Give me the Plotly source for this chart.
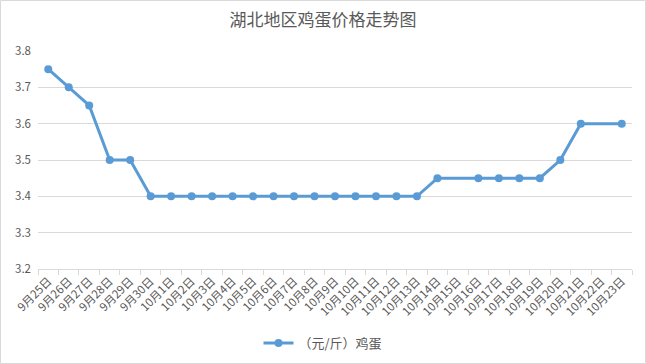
import plotly.graph_objects as go

dates = ["9月25日", "9月26日", "9月27日", "9月28日", "9月29日", "9月30日",
         "10月1日", "10月2日", "10月3日", "10月4日", "10月5日", "10月6日", "10月7日",
         "10月8日", "10月9日", "10月10日", "10月11日", "10月12日", "10月13日",
         "10月14日", "10月15日", "10月16日", "10月17日", "10月18日", "10月19日",
         "10月20日", "10月21日", "10月22日", "10月23日"]
prices = [3.75, 3.70, 3.65, 3.50, 3.50, 3.40,
          3.40, 3.40, 3.40, 3.40, 3.40, 3.40, 3.40,
          3.40, 3.40, 3.40, 3.40, 3.40, 3.40,
          3.45, None, 3.45, 3.45, 3.45, 3.45,
          3.50, 3.60, None, 3.60]
series_name = "（元/斤）鸡蛋"
title = "湖北地区鸡蛋价格走势图"
y_ticks = [3.2, 3.3, 3.4, 3.5, 3.6, 3.7, 3.8]

W, H = 646, 364
ml, mr, mt, mb = 38, 14, 51, 95
font = "Microsoft YaHei, Noto Sans CJK SC, sans-serif"

fig = go.Figure()
fig.add_trace(go.Scatter(
    x=dates, y=prices, name=series_name, mode="lines+markers",
    connectgaps=True,
    line=dict(color="#5B9BD5", width=3),
    marker=dict(color="#5B9BD5", size=8),
))

pw = W - ml - mr
ph = H - mt - mb
fig.add_shape(type="rect", xref="paper", yref="paper",
              x0=(-ml + 0.5) / pw, x1=1 + (mr - 0.5) / pw,
              y0=(-mb + 0.5) / ph, y1=1 + (mt - 0.5) / ph,
              line=dict(color="#D9D9D9", width=1), layer="below")

fig.update_layout(
    width=W, height=H,
    margin=dict(l=ml, r=mr, t=mt, b=mb, autoexpand=False),
    paper_bgcolor="white", plot_bgcolor="white",
    font=dict(family=font, color="#595959", size=11),
    title=dict(text=title, x=0.5, xref="container", xanchor="center",
               y=1 - 20 / H, yref="container", yanchor="middle",
               font=dict(size=17, color="#595959", family=font)),
    showlegend=True,
    legend=dict(orientation="h", x=(W / 2 - ml) / pw, xanchor="center",
                y=-(343 - 269) / ph, yanchor="middle",
                font=dict(size=13, color="#595959")),
    xaxis=dict(type="category", tickangle=-45, showgrid=False, automargin=False,
               range=[-0.5, len(dates) - 0.5],
               showline=True, linecolor="#D9D9D9", ticks="outside",
               tickcolor="#D9D9D9", ticklen=5, tickson="boundaries",
               tickfont=dict(size=11.5, color="#595959")),
    yaxis=dict(range=[3.2, 3.8], tickvals=y_ticks, ticktext=[f"{v:.1f}" for v in y_ticks],
               showgrid=True, gridcolor="#D9D9D9", zeroline=False, automargin=False,
               showline=False, ticklabelstandoff=6,
               tickfont=dict(size=11.5, color="#595959")),
)

fig.write_html("out.html", config={"displayModeBar": False},
               post_script="document.body.style.margin='0';")
